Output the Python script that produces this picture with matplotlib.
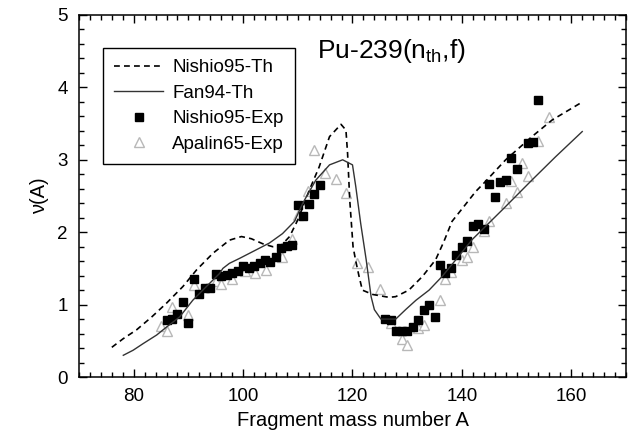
import matplotlib
matplotlib.use("Agg")
import matplotlib.pyplot as plt
from matplotlib.ticker import MultipleLocator

plt.rcParams['font.family'] = ['Liberation Sans', 'DejaVu Sans']
plt.rcParams['mathtext.fontset'] = 'custom'
plt.rcParams['mathtext.rm'] = 'Liberation Sans'

# Nishio95 theory (dashed)
nishio_th_a = [76.0, 78.1, 80.5, 83.3, 86.0, 89.0, 91.5, 94.5, 97.5, 99.7, 101.5, 103.6,
               105.4, 107.0, 108.5, 110.0, 112.1, 113.9, 115.8, 117.9, 118.8, 119.1,
               119.5, 120.1, 120.6, 121.2, 121.8, 123.7, 126.7, 127.9, 130.3, 132.8,
               135.2, 136.7, 138.2, 140.1, 142.5, 144.3, 148.0, 152.8, 156.5, 161.6]
nishio_th_nu = [0.41, 0.53, 0.65, 0.83, 1.02, 1.25, 1.48, 1.71, 1.89, 1.94, 1.91, 1.84,
                1.80, 1.82, 1.94, 2.17, 2.58, 2.90, 3.32, 3.49, 3.41, 3.09,
                2.44, 1.80, 1.60, 1.39, 1.20, 1.14, 1.10, 1.11, 1.20, 1.39,
                1.62, 1.87, 2.15, 2.33, 2.56, 2.70, 3.00, 3.32, 3.55, 3.78]

# Fan94 theory (solid)
fan_th_a = [78.1, 79.9, 81.7, 84.2, 86.0, 88.4, 90.8, 93.3, 95.7, 96.3, 97.5, 99.4,
            101.2, 104.8, 107.2, 109.4, 110.9, 113.3, 115.8, 118.2, 120.0, 120.6,
            121.5, 122.5, 123.4, 124.0, 125.2, 127.9, 129.7, 131.6, 134.0, 136.4,
            138.9, 141.9, 147.4, 152.8, 157.1, 162.0]
fan_th_nu = [0.30, 0.37, 0.46, 0.58, 0.69, 0.83, 1.06, 1.25, 1.43, 1.50, 1.57, 1.64,
             1.71, 1.85, 1.98, 2.15, 2.40, 2.72, 2.93, 3.00, 2.93, 2.63,
             2.12, 1.62, 1.11, 0.93, 0.80, 0.80, 0.93, 1.06, 1.20, 1.39,
             1.62, 1.90, 2.31, 2.72, 3.04, 3.39]

# Nishio95 experiment (filled squares)
nishio_exp_a = [86, 87, 88, 89, 90, 91, 92, 93, 94, 95, 96, 97, 98, 99, 100, 101, 102,
                103, 104, 105, 106, 107, 108, 109, 110, 111, 112, 113, 114,
                126, 127, 128, 129, 130, 131, 132, 133, 134, 135, 136, 137, 138, 139,
                140, 141, 142, 143, 144, 145, 146, 147, 148, 149, 150, 152, 153, 154]
nishio_exp_nu = [0.79, 0.80, 0.87, 1.03, 0.75, 1.36, 1.15, 1.23, 1.23, 1.42, 1.39, 1.41,
                 1.44, 1.47, 1.53, 1.51, 1.53, 1.57, 1.62, 1.59, 1.66, 1.78, 1.81, 1.82,
                 2.38, 2.23, 2.39, 2.53, 2.65,
                 0.80, 0.79, 0.63, 0.64, 0.63, 0.69, 0.79, 0.93, 0.99, 0.83, 1.55, 1.43,
                 1.50, 1.68, 1.80, 1.88, 2.09, 2.11, 2.04, 2.67, 2.48, 2.70, 2.72, 3.02,
                 2.87, 3.23, 3.24, 3.83]

# Apalin65 experiment (open triangles)
apalin_exp_a = [85, 86, 87, 90, 91, 95, 96, 98, 100.3, 102.2, 104.1, 107.2, 108.9, 110.0,
                111.9, 113.0, 115.0, 117.0, 118.9, 120.9, 122.9, 125.0, 127.0, 129.0,
                130.0, 132.0, 133.0, 136.0, 137.0, 138.0, 140.0, 141.0, 142.0, 144.0,
                145.0, 148.0, 149.0, 150.0, 151.0, 152.0, 154.0, 156.0]
apalin_exp_nu = [0.70, 0.63, 0.96, 0.86, 1.27, 1.33, 1.29, 1.35, 1.46, 1.44, 1.48, 1.66,
                 1.91, 2.24, 2.57, 3.14, 2.82, 2.74, 2.54, 1.58, 1.52, 1.22, 0.75, 0.52,
                 0.44, 0.67, 0.72, 1.06, 1.36, 1.45, 1.62, 1.66, 1.80, 2.01, 2.15, 2.40,
                 2.71, 2.55, 2.96, 2.77, 3.26, 3.59]

fig = plt.figure(figsize=(6.28, 4.40), dpi=100)
ax = fig.add_axes([79 / 628, 63 / 440, 547 / 628, 362 / 440])

h_ap, = ax.plot(apalin_exp_a, apalin_exp_nu, linestyle='none', marker='^', ms=7,
                mfc='white', mec='#b8b8b8', mew=1.0, label='Apalin65-Exp', zorder=2)
h_ne, = ax.plot(nishio_exp_a, nishio_exp_nu, linestyle='none', marker='s', ms=6,
                color='black', label='Nishio95-Exp', zorder=3)
h_nt, = ax.plot(nishio_th_a, nishio_th_nu, color='black', lw=1.2,
                linestyle=(0, (3.5, 2.5)), label='Nishio95-Th', zorder=4)
h_ft, = ax.plot(fan_th_a, fan_th_nu, color='#333333', lw=1.0,
                label='Fan94-Th', zorder=4)

ax.set_xlim(70, 170)
ax.set_ylim(0, 5)
ax.xaxis.set_major_locator(MultipleLocator(20))
ax.xaxis.set_minor_locator(MultipleLocator(2))
ax.yaxis.set_major_locator(MultipleLocator(1))
ax.yaxis.set_minor_locator(MultipleLocator(0.2))
ax.tick_params(which='both', direction='in', top=True, right=True, width=1.0,
               labelsize=13.5, pad=8)
ax.tick_params(which='major', length=6)
ax.tick_params(which='minor', length=3.5)
for s in ax.spines.values():
    s.set_linewidth(1.1)

ax.set_xlabel('Fragment mass number A', fontsize=14.5, labelpad=4)
ax.set_ylabel('ν(A)', fontsize=14.5, labelpad=6)

ax.text(113.6, 4.41, r'Pu-239(n$_{\mathrm{th}}$,f)', fontsize=19, va='baseline', ha='left')

leg = ax.legend(handles=[h_nt, h_ft, h_ne, h_ap], loc='upper left',
                bbox_to_anchor=(0.044, 0.909), borderaxespad=0, fontsize=13.5,
                numpoints=1, handlelength=2.6, handletextpad=0.5, labelspacing=0.45,
                fancybox=False, framealpha=1, edgecolor='black', borderpad=0.6)
leg.get_frame().set_linewidth(1.0)

fig.savefig('out.png', dpi=100)
